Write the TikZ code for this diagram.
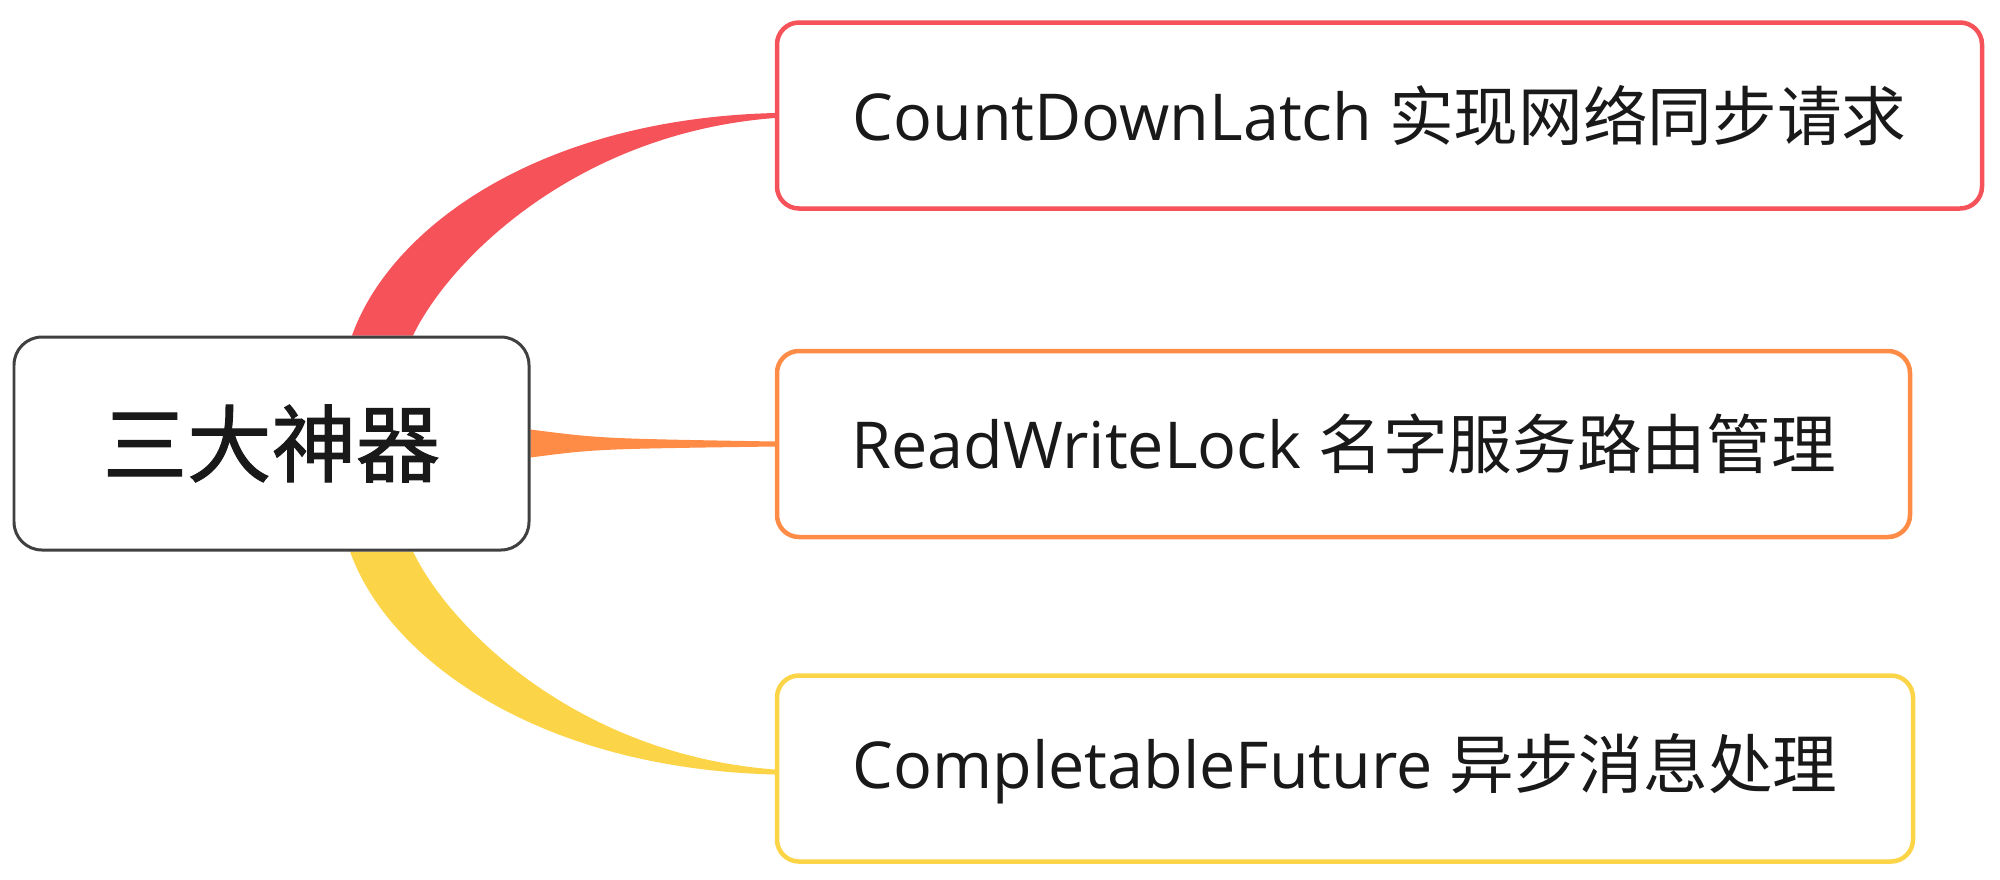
\documentclass[tikz,border=0pt]{standalone}
\usepackage{fontspec}
\setmainfont{Open Sans}
\newfontfamily\cjk{Noto Sans CJK SC}
\newfontfamily\cjkheavy[FakeBold=1.2]{Noto Sans CJK SC}
\usetikzlibrary{backgrounds}
\definecolor{mapred}{RGB}{245,82,90}
\definecolor{maporange}{RGB}{255,140,70}
\definecolor{mapyellow}{RGB}{252,212,72}
\tikzstyle{topic} = [draw=black!75, line width=0.03cm, rounded corners=0.28cm, fill=white, minimum width=5.15cm, minimum height=2.13cm, font=\cjkheavy\fontsize{24}{28}\selectfont, text=black!90]
\tikzstyle{subtopic} = [line width=0.045cm, rounded corners=0.22cm, fill=white, minimum height=1.86cm, font=\fontsize{18.4}{22}\selectfont, text=black!90]

\begin{document}
\begin{tikzpicture}
	\useasboundingbox (0,0) rectangle (20,8.79);

	\node[topic](tools) at (2.715, 4.355){三大神器};

	\node[subtopic, draw=mapred, minimum width=12.05cm](sync) at (13.795, 7.635){CountDownLatch {\cjk 实现网络同步请求}};
	\node[subtopic, draw=maporange, minimum width=11.33cm](route) at (13.435, 4.35){ReadWriteLock {\cjk 名字服务路由管理}};
	\node[subtopic, draw=mapyellow, minimum width=11.36cm](async) at (13.45, 1.105){CompletableFuture {\cjk 异步消息处理}};

	\begin{scope}[on background layer]
	\fill[mapred] ([xshift=0.805cm]tools.north) .. controls +(0.38,1.07) and +(-2.37,-0.06) .. ([yshift=0.025cm]sync.west)
		-- ([yshift=-0.025cm]sync.west) .. controls +(-1.97,-0.15) and +(0.37,0.77) .. ([xshift=1.415cm]tools.north) -- cycle;
	\fill[maporange] ([yshift=0.14cm]tools.east) .. controls +(0.7,-0.09) .. ([yshift=0.025cm]route.west)
		-- ([yshift=-0.025cm]route.west) .. controls +(-1.79,-0.025) .. ([yshift=-0.14cm]tools.east) -- cycle;
	\fill[mapyellow] ([xshift=0.785cm]tools.south) .. controls +(0.38,-1.07) and +(-2.37,0.06) .. ([yshift=-0.06cm]async.west)
		-- ([yshift=-0.01cm]async.west) .. controls +(-1.97,0.15) and +(0.37,-0.77) .. ([xshift=1.415cm]tools.south) -- cycle;
	\end{scope}
\end{tikzpicture}
\end{document}
